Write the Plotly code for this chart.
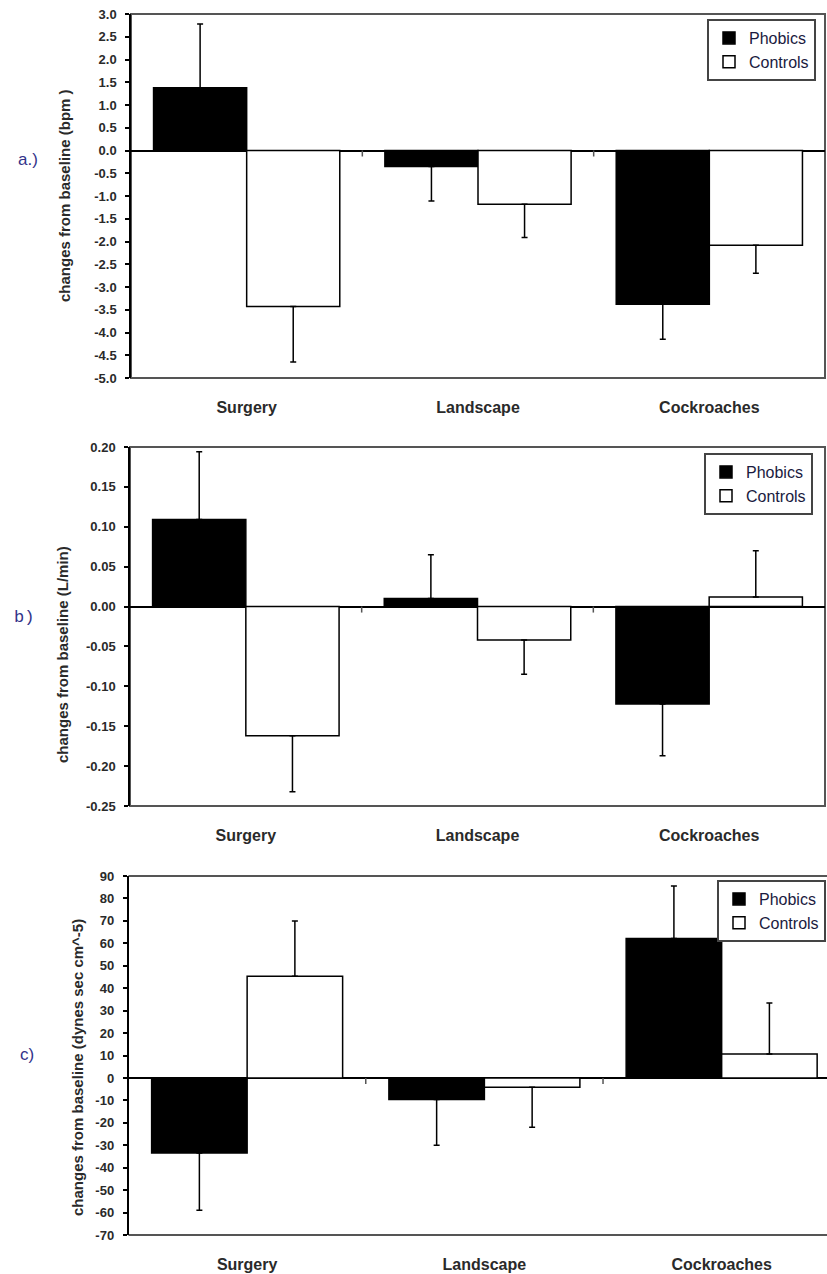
import plotly.graph_objects as go

categories = ["Surgery", "Landscape", "Cockroaches"]
series_names = ["Phobics", "Controls"]

# a) heart rate change (bpm)
a_phobics = [1.38, -0.35, -3.38]
a_phobics_err = [1.40, 0.76, 0.77]
a_controls = [-3.43, -1.18, -2.08]
a_controls_err = [1.22, 0.73, 0.62]
a_ticks = [3.0, 2.5, 2.0, 1.5, 1.0, 0.5, 0.0, -0.5, -1.0, -1.5, -2.0, -2.5,
           -3.0, -3.5, -4.0, -4.5, -5.0]
a_title = "changes from baseline (bpm )"

# b) cardiac output change (L/min)
b_phobics = [0.109, 0.010, -0.122]
b_phobics_err = [0.085, 0.055, 0.065]
b_controls = [-0.162, -0.042, 0.012]
b_controls_err = [0.070, 0.043, 0.058]
b_ticks = [0.20, 0.15, 0.10, 0.05, 0.00, -0.05, -0.10, -0.15, -0.20, -0.25]
b_title = "changes from baseline (L/min)"

# c) peripheral resistance change
c_phobics = [-33.4, -9.6, 62.2]
c_phobics_err = [25.6, 20.4, 23.3]
c_controls = [45.3, -4.2, 10.7]
c_controls_err = [24.7, 17.8, 22.7]
c_ticks = [90, 80, 70, 60, 50, 40, 30, 20, 10, 0, -10, -20, -30, -40, -50, -60, -70]
c_title = "changes from baseline (dynes sec cm^-5)"

W, H = 827, 1274
FONT = "Liberation Sans, Arial, sans-serif"
TXT = "#2a2a2a"


def px(x):
    return x / W


def py(y):
    return 1 - y / H


def err_arrays(vals, errs):
    plus = [e if v >= 0 else 0 for v, e in zip(vals, errs)]
    minus = [e if v < 0 else 0 for v, e in zip(vals, errs)]
    return plus, minus


panels = [
    dict(ph=a_phobics, phe=a_phobics_err, co=a_controls, coe=a_controls_err,
         ticks=a_ticks, fmt="{:.1f}", rng=[-5.0, 3.0], title=a_title,
         xdom=[px(131), px(825)], xr=[-0.5, 2.5], ydom=[py(378), py(14)],
         leg=(px(816), py(19), "right"), ttl=(64, 196), lab="a.)", labpos=(28, 160),
         labfont="Liberation Sans, Arial, sans-serif", closed=True),
    dict(ph=b_phobics, phe=b_phobics_err, co=b_controls, coe=b_controls_err,
         ticks=b_ticks, fmt="{:.2f}", rng=[-0.25, 0.20], title=b_title,
         xdom=[px(130), px(825)], xr=[-0.5, 2.5], ydom=[py(806), py(447)],
         leg=(px(813), py(453), "right"), ttl=(62, 655), lab="b)", labpos=(24, 617),
         labfont="Liberation Mono, Courier New, monospace", closed=True),
    dict(ph=c_phobics, phe=c_phobics_err, co=c_controls, coe=c_controls_err,
         ticks=c_ticks, fmt="{:.0f}", rng=[-70, 90], title=c_title,
         xdom=[px(128.5), 1.0], xr=[-0.5, 2.444], ydom=[py(1235), py(876)],
         leg=(px(717), py(880), "left"), ttl=(77, 1068), lab="c)", labpos=(27, 1054),
         labfont="Liberation Sans, Arial, sans-serif", closed=False),
]

fig = go.Figure()
shapes = []
annotations = []
layout = {}

for i, p in enumerate(panels):
    n = "" if i == 0 else str(i + 1)
    xa, ya = "x" + n, "y" + n
    legname = "legend" + n
    for name, vals, errs, fill in [
        (series_names[0], p["ph"], p["phe"], "black"),
        (series_names[1], p["co"], p["coe"], "white"),
    ]:
        plus, minus = err_arrays(vals, errs)
        fig.add_trace(go.Bar(
            x=categories, y=vals, name=name, xaxis=xa, yaxis=ya,
            legend=legname,
            marker=dict(color=fill, line=dict(color="black", width=1.5)),
            error_y=dict(type="data", symmetric=False, array=plus,
                         arrayminus=minus, color="black", thickness=1.5,
                         width=3),
        ))

    layout["xaxis" + n] = dict(
        domain=p["xdom"], anchor=ya, range=p["xr"], type="category",
        showline=False, ticks="", showgrid=False, zeroline=False,
        automargin=False,
        tickfont=dict(family=FONT, size=16, color=TXT, weight="bold"),
        ticklabelstandoff=18,
    )
    layout["yaxis" + n] = dict(
        domain=p["ydom"], anchor=xa, range=p["rng"], automargin=False,
        tickvals=p["ticks"], ticktext=[p["fmt"].format(v) for v in p["ticks"]],
        ticks="outside", ticklen=4, tickwidth=1.5, tickcolor="black",
        showline=True, linecolor="black", linewidth=1.5,
        zeroline=True, zerolinecolor="black", zerolinewidth=1.5,
        showgrid=False,
        tickfont=dict(family=FONT, size=13, color=TXT, weight="bold"),
        ticklabelstandoff=6,
    )
    layout[legname] = dict(
        x=p["leg"][0], y=p["leg"][1], xanchor=p["leg"][2], yanchor="top",
        bgcolor="white", bordercolor="#444", borderwidth=2,
        font=dict(family=FONT, size=16, color="#1a1a40"),
        traceorder="normal", itemwidth=30, tracegroupgap=0,
    )

    # frame
    if p["closed"]:
        shapes.append(dict(type="rect", xref=xa + " domain", yref=ya + " domain",
                           x0=0, x1=1, y0=0, y1=1,
                           line=dict(color="#555", width=2), layer="below"))
    else:
        for yy in (0, 1):
            shapes.append(dict(type="line", xref=xa + " domain", yref=ya + " domain",
                               x0=0, x1=1, y0=yy, y1=yy,
                               line=dict(color="#555", width=2), layer="below"))
    # category boundary ticks on zero line
    for k in range(len(categories) - 1):
        shapes.append(dict(type="line", xref=xa, yref=ya, x0=k + 0.5, x1=k + 0.5,
                           ysizemode="pixel", yanchor=0, y0=0, y1=-6,
                           line=dict(color="#555", width=1.5)))

    annotations.append(dict(
        text=p["title"], textangle=-90, xref="paper", yref="paper",
        x=px(p["ttl"][0]), y=py(p["ttl"][1]), xanchor="center", yanchor="middle",
        showarrow=False, font=dict(family=FONT, size=15, color=TXT, weight="bold"),
    ))
    annotations.append(dict(
        text=p["lab"], xref="paper", yref="paper",
        x=px(p["labpos"][0]), y=py(p["labpos"][1]), xanchor="center",
        yanchor="middle", showarrow=False,
        font=dict(family=p["labfont"], size=17, color="#33338a"),
    ))

fig.update_layout(
    width=W, height=H, autosize=False,
    margin=dict(l=0, r=0, t=0, b=0, autoexpand=False),
    paper_bgcolor="white", plot_bgcolor="white",
    barmode="group", bargap=0.195, bargroupgap=0,
    shapes=shapes, annotations=annotations,
    showlegend=True,
    **layout,
)

fig.write_html(
    "out.html",
    config={"displayModeBar": False},
    post_script="document.body.style.margin='0';document.body.style.overflow='hidden';",
)
